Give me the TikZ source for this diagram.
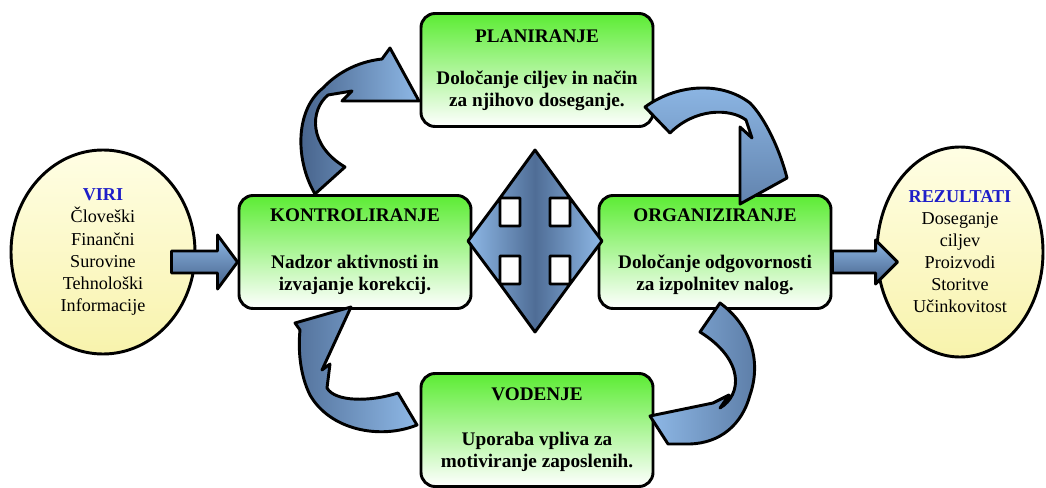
\documentclass[tikz,border=0pt]{standalone}
\usepackage{fontspec}
\setmainfont{Liberation Serif}
\usetikzlibrary{shapes.geometric,calc}
\definecolor{zelena}{RGB}{92,236,52}
\definecolor{rumena}{RGB}{248,243,172}
\definecolor{rumenasv}{RGB}{255,254,228}
\definecolor{modra}{RGB}{30,30,200}
\definecolor{plavasv}{RGB}{142,184,230}
\definecolor{plavatm}{RGB}{68,96,136}
\begin{document}
\begin{tikzpicture}[x=0.03cm,y=-0.03cm,line join=round,
	okvir/.style={draw,line width=2.5pt,rounded corners=12pt,top color=zelena,bottom color=white,middle color=zelena!50,
		minimum width=6.96cm,minimum height=3.39cm,inner sep=0pt,align=center,font=\bfseries\fontsize{16.4}{18.8}\selectfont},
	vir/.style={ellipse,draw,line width=2.5pt,top color=rumenasv,bottom color=rumena,inner sep=0pt,align=center,
		font=\fontsize{15.5}{18.8}\selectfont},
	strelica/.style={draw,line width=2.5pt}]
	\useasboundingbox (0,0) rectangle (1046,488);
	% viri in rezultati
	\node[vir,minimum width=5.52cm,minimum height=6.12cm] (viri) at (103,252)
		{\textcolor{modra}{\textbf{VIRI}}\\Človeški\\Finančni\\Surovine\\Tehnološki\\Informacije};
	\node[vir,minimum width=4.98cm,minimum height=6.3cm] (rez) at (960,252)
		{\textcolor{modra}{\textbf{REZULTATI}}\\Doseganje\\ciljev\\Proizvodi\\Storitve\\Učinkovitost};
	% štiri funkcije
	\node[okvir] (plan) at (537,70) {PLANIRANJE\\[0.6cm] Določanje ciljev in način\\za njihovo doseganje.};
	\node[okvir] (kontrol) at (355,252) {KONTROLIRANJE\\[0.75cm] Nadzor aktivnosti in\\izvajanje korekcij.};
	\node[okvir] (organ) at (715,252) {ORGANIZIRANJE\\[0.75cm] Določanje odgovornosti\\za izpolnitev nalog.};
	\node[okvir] (voden) at (537,430) {VODENJE\\[0.69cm] Uporaba vpliva za\\motiviranje zaposlenih.};
	% ravni puščici
	\coordinate (a1) at ($(viri.east)+(-25,10)$);
	\coordinate (a2) at ($(kontrol.west)+(0,10)$);
	\draw[strelica,top color=plavasv,bottom color=plavatm] ($(a1)+(0,-11)$) -- ($(a2)+(-20,-11)$) -- ++(0,-16) -- (a2)
		-- ($(a2)+(-20,27)$) -- ++(0,-16) -- ($(a1)+(0,11)$) -- cycle;
	\coordinate (b1) at ($(organ.east)+(0,10)$);
	\coordinate (b2) at ($(rez.west)+(22,10)$);
	\draw[strelica,top color=plavasv,bottom color=plavatm] ($(b1)+(0,-11)$) -- ($(b2)+(-22,-11)$) -- ++(0,-11) -- (b2)
		-- ($(b2)+(-22,22)$) -- ++(0,-11) -- ($(b1)+(0,11)$) -- cycle;
	% krožne puščice
	\draw[strelica,left color=plavatm,right color=plavasv] (315,194) .. controls (295,160) and (295,110) .. (323,88)
		.. controls (335,75) and (355,62) .. (382,59) -- (390,48) -- (419,101) -- (342,101) -- (352,91) -- (328,95)
		.. controls (310,110) and (308,145) .. (345,167) -- cycle;
	\draw[strelica,top color=plavasv,bottom color=plavatm!60!plavasv] (645,107) .. controls (675,85) and (720,80) .. (750,103)
		.. controls (765,118) and (780,150) .. (787,178) -- (740,204) -- (740,127) -- (752,138) -- (746,120)
		.. controls (730,108) and (695,108) .. (670,133) -- cycle;
	\draw[strelica,left color=plavatm!80!plavasv,right color=plavasv] (417,425) .. controls (380,440) and (330,430) .. (310,395)
		.. controls (300,375) and (298,350) .. (300,330) -- (295,323) -- (351,307) -- (322,370) -- (330,364) -- (327,388)
		.. controls (335,402) and (370,402) .. (398,393) -- cycle;
	\draw[strelica,left color=plavasv,right color=plavatm!70!plavasv] (720,303) .. controls (750,325) and (762,360) .. (750,395)
		.. controls (742,425) and (720,443) .. (690,444) -- (668,444) -- (650,416) -- (713,403) -- (729,395) -- (720,408)
		.. controls (742,395) and (745,360) .. (700,332) -- cycle;
	% križna puščica v sredini
	\begin{scope}[shift={(535,241)}]
		\draw[strelica,left color=plavasv,right color=plavasv,middle color=plavatm!85!plavasv] (0,-91) -- (35,-43) -- (15,-43) -- (15,-15) -- (35,-15) -- (35,-43)
			-- (67,0) -- (35,43) -- (35,15) -- (15,15) -- (15,43) -- (35,43)
			-- (0,91) -- (-35,43) -- (-15,43) -- (-15,15) -- (-35,15) -- (-35,43)
			-- (-67,0) -- (-35,-43) -- (-35,-15) -- (-15,-15) -- (-15,-43) -- (-35,-43) -- cycle;
	\end{scope}
\end{tikzpicture}
\end{document}
